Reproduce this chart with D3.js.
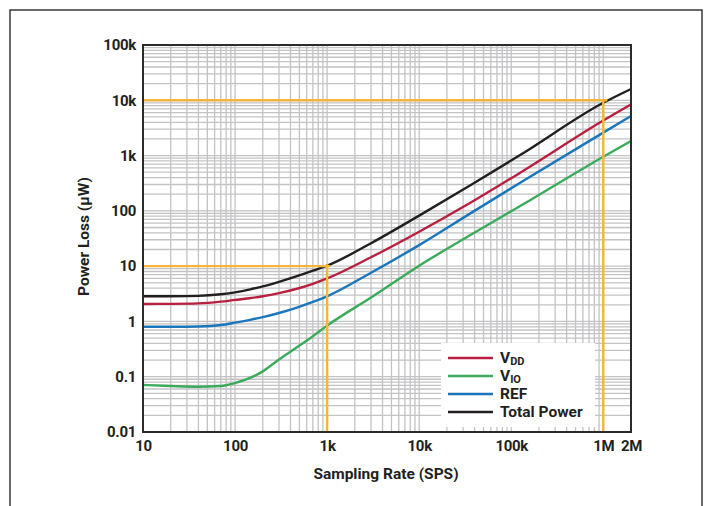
<!DOCTYPE html>
<html><head><meta charset="utf-8">
<script src="https://cdn.jsdelivr.net/npm/d3@7"></script>
<style>
body{margin:0;background:#fff;}
text{font-family:Roboto,"Noto Sans",sans-serif;}
</style></head>
<body>
<svg id="c" width="704" height="506"></svg>
<script>
const rates = [10, 20, 40, 70, 100, 150, 200, 300, 470, 700, 1000, 3000, 10000, 36000, 125000, 1000000, 2000000];
const totalPower = [2.85, 2.86, 2.9, 3.1, 3.35, 3.85, 4.3, 5.2, 6.6, 8.3, 10.2, 26, 82, 290, 1020, 9000, 16000];
const vdd = [2.07, 2.08, 2.12, 2.28, 2.45, 2.65, 2.85, 3.25, 3.9, 4.8, 6.0, 14.5, 42, 140, 489, 4300, 8400];
const vio = [0.071, 0.068, 0.066, 0.068, 0.077, 0.097, 0.125, 0.205, 0.34, 0.54, 0.84, 2.7, 10.2, 36.5, 122, 950, 1830];
const ref = [0.80, 0.80, 0.81, 0.86, 0.95, 1.08, 1.2, 1.42, 1.78, 2.25, 2.85, 7.6, 24, 90, 322, 2600, 5200];

const xTicks = [10, 100, 1000, 10000, 100000, 1000000, 2000000];
const xTickLabels = ["10", "100", "1k", "10k", "100k", "1M", "2M"];
const yTicks = [0.01, 0.1, 1, 10, 100, 1000, 10000, 100000];
const yTickLabels = ["0.01", "0.1", "1", "10", "100", "1k", "10k", "100k"];

const seriesNames = ["VDD", "VIO", "REF", "Total Power"];
const seriesValues = [vdd, vio, ref, totalPower];
const seriesColors = ["#b8203f", "#3bab5b", "#1b76bc", "#231f20"];

const svg = d3.select("#c");
const L = 143, R = 631, T = 45, B = 432;
const x = d3.scaleLog().domain([10, 2000000]).range([L, R]);
const y = d3.scaleLog().domain([0.01, 100000]).range([B, T]);

// outer frame
svg.append("rect").attr("x", 10).attr("y", 10).attr("width", 692).attr("height", 520)
  .attr("fill", "none").attr("stroke", "#3a3a3a").attr("stroke-width", 1.5);

// grid
const xg = [];
for (let d = 10; d <= 1000000; d *= 10) for (let m = 1; m <= 9; m++) { const v = d * m; if (v <= 2000000) xg.push(v); }
xg.push(2000000);
const yg = [];
for (let k = -2; k <= 4; k++) for (let m = 1; m <= 9; m++) yg.push(m * Math.pow(10, k));
yg.push(100000);
const g = svg.append("g").attr("stroke", "#c3c3c6").attr("stroke-width", 1.3);
g.selectAll("line.v").data(xg).join("line").attr("class", "v")
  .attr("x1", d => x(d)).attr("x2", d => x(d)).attr("y1", T).attr("y2", B);
g.selectAll("line.h").data(yg).join("line").attr("class", "h")
  .attr("x1", L).attr("x2", R).attr("y1", d => y(d)).attr("y2", d => y(d));

// curves
const line = d3.line().x(d => x(d[0])).y(d => y(d[1])).curve(d3.curveMonotoneX);
seriesValues.forEach((vals, i) => {
  svg.append("path").datum(rates.map((r, j) => [r, vals[j]]))
    .attr("fill", "none").attr("stroke", seriesColors[i]).attr("stroke-width", 2.4)
    .attr("d", line);
});

// orange reference lines
const orange = "#f5b43a";
const og = svg.append("g").attr("stroke", orange).attr("stroke-width", 2.4);
og.append("line").attr("x1", L).attr("x2", x(1000000) + 4).attr("y1", y(10000)).attr("y2", y(10000));
og.append("line").attr("x1", x(1000000)).attr("x2", x(1000000)).attr("y1", y(10000) - 1).attr("y2", B);
og.append("line").attr("x1", L).attr("x2", x(1000) + 3).attr("y1", y(10)).attr("y2", y(10));
og.append("line").attr("x1", x(1000)).attr("x2", x(1000)).attr("y1", y(10) - 2).attr("y2", B);

// legend
const lg = svg.append("g");
lg.append("rect").attr("x", 441).attr("y", 343).attr("width", 154).attr("height", 84).attr("fill", "#fff");
const rowY = [358, 376, 394, 412];
seriesNames.forEach((n, i) => {
  lg.append("line").attr("x1", 448).attr("x2", 493).attr("y1", rowY[i]).attr("y2", rowY[i])
    .attr("stroke", seriesColors[i]).attr("stroke-width", 2.4);
  const t = lg.append("text").attr("x", 500).attr("y", rowY[i] + 5)
    .attr("font-size", 15.5).attr("font-weight", 700).attr("fill", "#231f20");
  if (n === "VDD" || n === "VIO") {
    t.append("tspan").text("V");
    t.append("tspan").attr("dy", 2).attr("font-size", 11).text(n.slice(1));
  } else {
    t.text(n);
  }
});

// axes (labels only)
const xa = svg.append("g").attr("transform", `translate(0,${B})`)
  .call(d3.axisBottom(x).tickValues(xTicks).tickFormat((d, i) => xTickLabels[i]).tickSize(0).tickPadding(8));
xa.select(".domain").remove();
xa.selectAll("text").attr("font-size", 15).attr("font-weight", 700).attr("fill", "#231f20")
  .attr("font-family", "Roboto").attr("letter-spacing", -0.3);
const ya = svg.append("g").attr("transform", `translate(${L},0)`)
  .call(d3.axisLeft(y).tickValues(yTicks).tickFormat((d, i) => yTickLabels[i]).tickSize(0).tickPadding(7));
ya.select(".domain").remove();
ya.selectAll("text").attr("font-size", 15).attr("font-weight", 700).attr("fill", "#231f20")
  .attr("font-family", "Roboto").attr("letter-spacing", -0.3);

// plot border
svg.append("rect").attr("x", L).attr("y", T).attr("width", R - L).attr("height", B - T)
  .attr("fill", "none").attr("stroke", "#2b2b2b").attr("stroke-width", 2);

// axis titles
svg.append("text").attr("x", (L + R) / 2 - 1).attr("y", 479).attr("text-anchor", "middle")
  .attr("font-size", 15.5).attr("font-weight", 700).attr("fill", "#231f20").text("Sampling Rate (SPS)");
svg.append("text").attr("transform", `translate(89,${(T + B) / 2 - 2}) rotate(-90)`).attr("text-anchor", "middle")
  .attr("font-size", 15.5).attr("font-weight", 700).attr("fill", "#231f20").text("Power Loss (μW)");
</script>
</body></html>
